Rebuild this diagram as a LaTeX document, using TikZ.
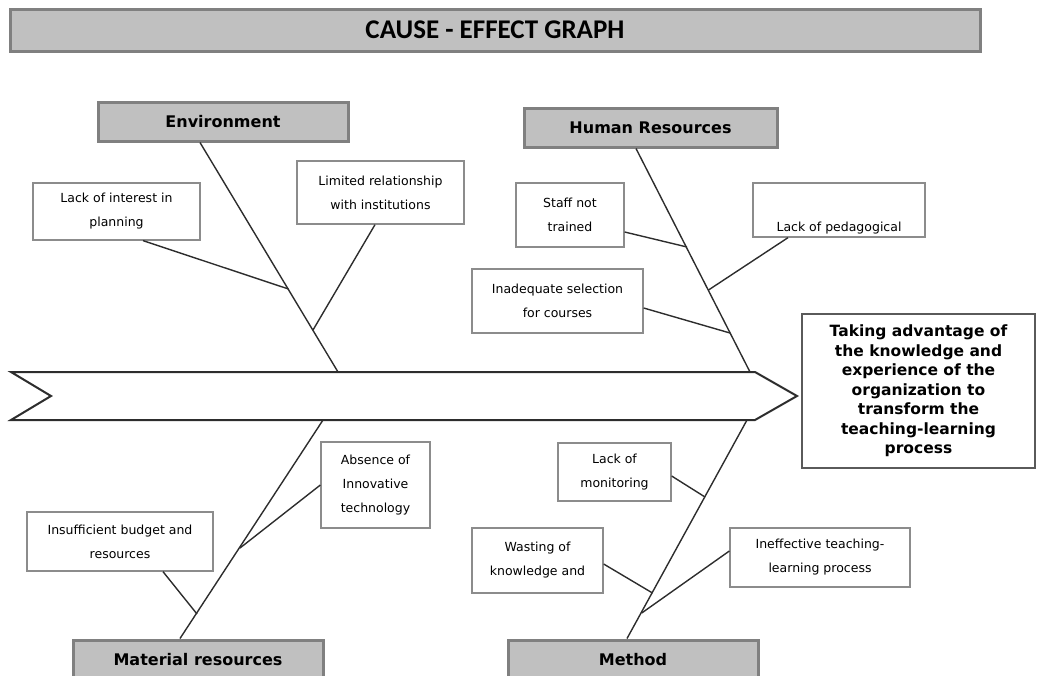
\documentclass[tikz,border=0pt]{standalone}
\usepackage{fontspec}
\setmainfont{DejaVu Sans}
\newfontfamily\titlefont{Carlito}
\usetikzlibrary{calc}
\definecolor{catfill}{RGB}{192,192,192}
\definecolor{catline}{RGB}{128,128,128}
\definecolor{boxline}{RGB}{140,140,140}
\definecolor{effline}{RGB}{90,90,90}
\definecolor{boneline}{RGB}{45,45,45}

\begin{document}
\begin{tikzpicture}[x=1pt,y=-1pt,
      cat/.style={draw=catline,line width=3pt,fill=catfill,inner sep=0pt,minimum width=250pt,minimum height=39pt,font=\bfseries\fontsize{16}{19}\selectfont},
      cause/.style={draw=boxline,line width=1.3pt,fill=white,align=center,inner sep=0pt,font=\fontsize{12.5}{24}\selectfont},
      bone/.style={draw=boneline,line width=1.4pt}
    ]
      \useasboundingbox (0,0) rectangle (1040,675);
      \clip (0,0) rectangle (1040,675);
      \node[cat,minimum width=970pt,minimum height=42pt,font=\titlefont\bfseries\fontsize{27}{30}\selectfont] (title) at (495,30) {CAUSE - EFFECT GRAPH};
      \node[cat] (env) at (223,121.5) {Environment};
      \node[cat,minimum width=253pt] (hr) at (650.5,127.5) {Human Resources};
      \node[cat] (mat) at (198,659.5) {Material resources};
      \node[cat] (met) at (633,659.5) {Method};
      \node[cause,minimum width=167pt,minimum height=57pt] (lack) at (116.5,211.5) {Lack of interest in\\planning};
      \node[cause,minimum width=167pt,minimum height=63pt] (limit) at (380.5,192.5) {Limited relationship\\with institutions};
      \node[cause,minimum width=108pt,minimum height=64pt] (staff) at (570,215) {Staff not\\trained};
      \node[cause,minimum width=172pt,minimum height=54pt] (pedag) at (839,210) {\rule{0pt}{9pt}\\[12pt]Lack of pedagogical};
      \node[cause,minimum width=171pt,minimum height=64pt] (select) at (557.5,301) {Inadequate selection\\for courses};
      \node[cause,minimum width=186pt,minimum height=59pt] (budget) at (120,541.5) {Insufficient budget and\\resources};
      \node[cause,minimum width=109pt,minimum height=86pt] (absent) at (375.5,485) {Absence of\\Innovative\\technology};
      \node[cause,minimum width=113pt,minimum height=58pt] (monit) at (614.5,472) {Lack of\\monitoring};
      \node[cause,minimum width=131pt,minimum height=65pt] (waste) at (537.5,560.5) {Wasting of\\knowledge and};
      \node[cause,minimum width=180pt,minimum height=59pt] (ineff) at (820,557.5) {Ineffective teaching-\\learning process};
      \node[draw=effline,line width=2pt,fill=white,minimum width=233pt,minimum height=154pt,align=center,inner sep=0pt,font=\bfseries\fontsize{15.5}{19.5}\selectfont] (effect) at (918.5,391) {Taking advantage of\\the knowledge and\\experience of the\\organization to\\transform the\\teaching-learning\\process};
      \coordinate (envEnd) at (338,372);
      \coordinate (hrEnd) at (750,372);
      \coordinate (matEnd) at (323,420);
      \coordinate (metEnd) at (747,420);
      \coordinate (envA) at (288.5,289);
      \coordinate (envB) at (313,330);
      \coordinate (hrA) at (687,247);
      \coordinate (hrB) at (708.5,290);
      \coordinate (hrC) at (730,333);
      \coordinate (matA) at (197,614);
      \coordinate (matB) at (240,548);
      \coordinate (metA) at (705,497);
      \coordinate (metB) at (652.5,593);
      \coordinate (metC) at (641.7,613);
      \draw[bone] ([xshift=-23pt]env.south) -- (envEnd);
      \draw[bone] ([xshift=-14.5pt]hr.south) -- (hrEnd);
      \draw[bone] ([xshift=-18pt]mat.north) -- (matEnd);
      \draw[bone] ([xshift=-6pt]met.north) -- (metEnd);
      \draw[bone] ([xshift=26.5pt]lack.south) -- (envA);
      \draw[bone] ([xshift=-5.5pt]limit.south) -- (envB);
      \draw[bone] ([yshift=-17pt]staff.east) -- (hrA);
      \draw[bone] ([xshift=-51pt]pedag.south) -- (hrB);
      \draw[bone] ([yshift=-7pt]select.east) -- (hrC);
      \draw[bone] ([xshift=43pt]budget.south) -- (matA);
      \draw[bone] (absent.west) -- (matB);
      \draw[bone] ([yshift=-4pt]monit.east) -- (metA);
      \draw[bone] ([yshift=-3.5pt]waste.east) -- (metB);
      \draw[bone] ([yshift=6.5pt]ineff.west) -- (metC);
      \draw[line width=2pt,draw=boneline,fill=white] (11,372) -- (755,372) -- (797,396) -- (755,420) -- (11,420) -- (51,396) -- cycle;
    \end{tikzpicture}
\end{document}
